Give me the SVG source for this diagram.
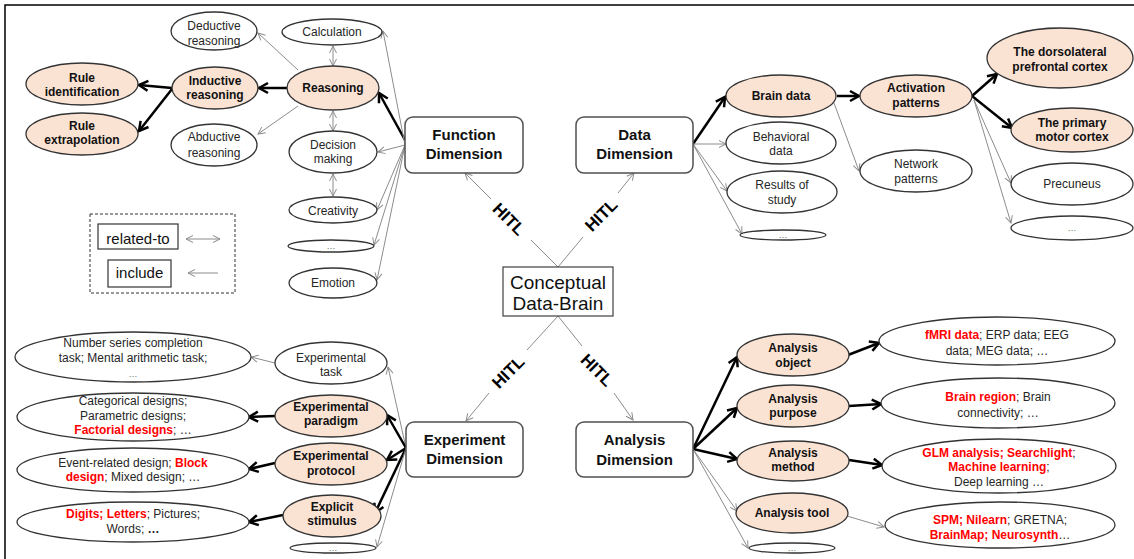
<svg xmlns="http://www.w3.org/2000/svg" width="1134" height="559" viewBox="0 0 1134 559">
  <defs>
    <style>
      .n{fill:#fff;stroke:#333;stroke-width:1.3}
      .h{fill:#FBE3D4;stroke:#333;stroke-width:1.3}
      .box{fill:#fff;stroke:#505050;stroke-width:1.5}
      text{font-family:"Liberation Sans",Arial,sans-serif;font-size:12px;fill:#262626;text-anchor:middle}
      .b{font-weight:bold;fill:#111}
      .r{font-weight:bold;fill:#FF0000}
      .dim{font-size:15px;font-weight:bold;fill:#111}
      .dots{font-size:9px;fill:#666}
      .hitl{font-size:17px;font-weight:bold;fill:#000}
      .g{stroke:#8c8c8c;stroke-width:1;fill:none;marker-end:url(#ag)}
      .p{stroke:#8c8c8c;stroke-width:1;fill:none}
      .d{stroke:#8c8c8c;stroke-width:1;fill:none;marker-start:url(#ag);marker-end:url(#ag)}
      .k{stroke:#000;stroke-width:2.5;fill:none;marker-end:url(#ak)}
    </style>
    <marker id="ag" markerUnits="userSpaceOnUse" viewBox="-10 -6 12 12" refX="0" refY="0" markerWidth="12" markerHeight="12" orient="auto-start-reverse">
      <path d="M-7,-3.5 L0,0 L-7,3.5" fill="none" stroke="#8c8c8c" stroke-width="1"/>
    </marker>
    <marker id="ak" markerUnits="userSpaceOnUse" viewBox="-12 -7 14 14" refX="0" refY="0" markerWidth="14" markerHeight="14" orient="auto">
      <path d="M-9,-5 L0,0 L-9,5" fill="none" stroke="#000" stroke-width="2.5"/>
    </marker>
  </defs>

  <!-- frame -->
  <path d="M5,559 V5 H1134" fill="none" stroke="#000" stroke-width="1.5"/>

  <!-- connectors -->
  <g id="connectors">
    <!-- function dimension -->
    <path class="k" d="M405,140 L379,93"/>
    <path class="g" d="M405,145 L383,31"/>
    <path class="g" d="M405,145 L378,152"/>
    <path class="g" d="M405,145 L377,210"/>
    <path class="g" d="M405,145 L374,245"/>
    <path class="g" d="M405,145 L377,280"/>
    <path class="k" d="M287,88 L259,88"/>
    <path class="k" d="M172,88 L139,85"/>
    <path class="k" d="M172,89 L139,131"/>
    <path class="g" d="M298,70 L258,33"/>
    <path class="g" d="M298,106 L258,134"/>
    <path class="d" d="M333,46 L333,66"/>
    <path class="d" d="M333,111 L333,131"/>
    <path class="d" d="M333,174 L333,196"/>
    <!-- HITL links -->
    <path class="p" d="M558,267 L531,240"/>
    <path class="g" d="M491,199 L465,173"/>
    <path class="p" d="M558,267 L583,237"/>
    <path class="g" d="M618,193 L634,173"/>
    <path class="p" d="M558,316 L527,350"/>
    <path class="g" d="M489,393 L466,421"/>
    <path class="p" d="M558,316 L582,346"/>
    <path class="g" d="M614,393 L633,420"/>
    <!-- data dimension -->
    <path class="k" d="M693,144 L725,97"/>
    <path class="g" d="M693,144 L726,144"/>
    <path class="g" d="M693,144 L727,191"/>
    <path class="g" d="M693,144 L742,234"/>
    <path class="k" d="M837,96 L859,96"/>
    <path class="g" d="M834,103 L859,171"/>
    <path class="k" d="M972,96 L997,74"/>
    <path class="k" d="M972,96 L1012,128"/>
    <path class="g" d="M974,100 L1011,183"/>
    <path class="g" d="M974,100 L1011,223"/>
    <!-- experiment dimension -->
    <path class="g" d="M406,448 L388,367"/>
    <path class="k" d="M406,448 L387,415"/>
    <path class="k" d="M406,448 L387,460"/>
    <path class="k" d="M406,448 L375,513"/>
    <path class="g" d="M406,448 L377,547"/>
    <path class="g" d="M275,363 L251,357"/>
    <path class="k" d="M275,416 L249,417"/>
    <path class="k" d="M275,463 L249,469"/>
    <path class="k" d="M283,515 L249,522"/>
    <!-- analysis dimension -->
    <path class="k" d="M693,449 L737,357"/>
    <path class="k" d="M693,449 L737,408"/>
    <path class="k" d="M693,449 L737,459"/>
    <path class="g" d="M693,449 L737,511"/>
    <path class="g" d="M693,449 L748,548"/>
    <path class="k" d="M848,355 L879,343"/>
    <path class="k" d="M849,406 L881,404"/>
    <path class="k" d="M849,460 L882,465"/>
    <path class="g" d="M847,516 L884,527"/>
  </g>

  <!-- HITL labels -->
  <g id="hitl-labels">
    <text class="hitl" transform="translate(509,219) rotate(45)" y="6">HITL</text>
    <text class="hitl" transform="translate(601,215) rotate(-45)" y="6">HITL</text>
    <text class="hitl" transform="translate(508,372) rotate(-45)" y="6">HITL</text>
    <text class="hitl" transform="translate(597,370) rotate(45)" y="6">HITL</text>
  </g>

  <!-- centre -->
  <g id="conceptual-data-brain">
    <rect x="503" y="267" width="110" height="49" fill="#fff" stroke="#404040" stroke-width="1.2"/>
    <text x="558" y="289" style="font-size:19px;fill:#111">Conceptual</text>
    <text x="558" y="310" style="font-size:19px;fill:#111">Data-Brain</text>
  </g>

  <!-- dimensions -->
  <g id="function-dimension">
    <rect class="box" x="405" y="117" width="118" height="56" rx="8"/>
    <text class="dim" x="464" y="140">Function</text>
    <text class="dim" x="464" y="159">Dimension</text>
  </g>
  <g id="data-dimension">
    <rect class="box" x="576" y="117" width="117" height="56" rx="8"/>
    <text class="dim" x="634.5" y="140">Data</text>
    <text class="dim" x="634.5" y="159">Dimension</text>
  </g>
  <g id="experiment-dimension">
    <rect class="box" x="406" y="422" width="117" height="55" rx="8"/>
    <text class="dim" x="464.5" y="445">Experiment</text>
    <text class="dim" x="464.5" y="464">Dimension</text>
  </g>
  <g id="analysis-dimension">
    <rect class="box" x="576" y="422" width="117" height="55" rx="8"/>
    <text class="dim" x="634.5" y="445">Analysis</text>
    <text class="dim" x="634.5" y="465">Dimension</text>
  </g>

  <!-- function nodes -->
  <g id="deductive-reasoning">
    <ellipse class="n" cx="214" cy="31" rx="43" ry="19"/>
    <text x="214" y="30">Deductive</text><text x="214" y="45">reasoning</text>
  </g>
  <g id="calculation">
    <ellipse class="n" cx="332" cy="32" rx="50" ry="13"/>
    <text x="332" y="36">Calculation</text>
  </g>
  <g id="reasoning">
    <ellipse class="h" cx="333" cy="88" rx="46" ry="22"/>
    <text class="b" x="333" y="92">Reasoning</text>
  </g>
  <g id="inductive-reasoning">
    <ellipse class="h" cx="215" cy="88" rx="43" ry="21"/>
    <text class="b" x="215" y="85">Inductive</text><text class="b" x="215" y="99">reasoning</text>
  </g>
  <g id="rule-identification">
    <ellipse class="h" cx="82" cy="84" rx="56" ry="21"/>
    <text class="b" x="82" y="82">Rule</text><text class="b" x="82" y="96">identification</text>
  </g>
  <g id="rule-extrapolation">
    <ellipse class="h" cx="82" cy="134" rx="56" ry="21"/>
    <text class="b" x="82" y="130">Rule</text><text class="b" x="82" y="144">extrapolation</text>
  </g>
  <g id="abductive-reasoning">
    <ellipse class="n" cx="214" cy="145" rx="43" ry="21"/>
    <text x="214" y="141">Abductive</text><text x="214" y="157">reasoning</text>
  </g>
  <g id="decision-making">
    <ellipse class="n" cx="333" cy="152" rx="44" ry="21"/>
    <text x="333" y="149">Decision</text><text x="333" y="163">making</text>
  </g>
  <g id="creativity">
    <ellipse class="n" cx="333" cy="210" rx="44" ry="13"/>
    <text x="333" y="215">Creativity</text>
  </g>
  <g id="function-more">
    <ellipse class="n" cx="331" cy="246" rx="43" ry="6"/>
    <text class="dots" x="331" y="249">…</text>
  </g>
  <g id="emotion">
    <ellipse class="n" cx="333" cy="283" rx="44" ry="15"/>
    <text x="333" y="287">Emotion</text>
  </g>

  <!-- legend -->
  <g id="legend">
    <rect x="90" y="214" width="145" height="79" fill="none" stroke="#333" stroke-width="1" stroke-dasharray="3,2"/>
    <rect x="98" y="224" width="80" height="25" fill="#fff" stroke="#333" stroke-width="1.2"/>
    <text x="138" y="244" style="font-size:15px;fill:#111">related-to</text>
    <rect x="108" y="260" width="63" height="27" fill="#fff" stroke="#333" stroke-width="1.2"/>
    <text x="139.5" y="278" style="font-size:15px;fill:#111">include</text>
    <path class="d" d="M186,239 L220,239"/>
    <path class="g" d="M218,273 L188,273"/>
  </g>

  <!-- data nodes -->
  <g id="brain-data">
    <ellipse class="h" cx="781" cy="96" rx="55" ry="21"/>
    <text class="b" x="781" y="100">Brain data</text>
  </g>
  <g id="behavioral-data">
    <ellipse class="n" cx="781" cy="143" rx="55" ry="21"/>
    <text x="781" y="141">Behavioral</text><text x="781" y="155">data</text>
  </g>
  <g id="results-of-study">
    <ellipse class="n" cx="782" cy="192" rx="55" ry="21"/>
    <text x="782" y="189">Results of</text><text x="782" y="204">study</text>
  </g>
  <g id="data-more">
    <ellipse class="n" cx="783" cy="235" rx="43" ry="5"/>
    <text class="dots" x="783" y="238">…</text>
  </g>
  <g id="activation-patterns">
    <ellipse class="h" cx="916" cy="96" rx="56" ry="21"/>
    <text class="b" x="916" y="92">Activation</text><text class="b" x="916" y="107">patterns</text>
  </g>
  <g id="dorsolateral-prefrontal-cortex">
    <ellipse class="h" cx="1060" cy="58" rx="73" ry="30"/>
    <text class="b" x="1060" y="56">The dorsolateral</text><text class="b" x="1060" y="71">prefrontal cortex</text>
  </g>
  <g id="primary-motor-cortex">
    <ellipse class="h" cx="1072" cy="130" rx="61" ry="22"/>
    <text class="b" x="1072" y="127">The primary</text><text class="b" x="1072" y="141">motor cortex</text>
  </g>
  <g id="network-patterns">
    <ellipse class="n" cx="916" cy="171" rx="56" ry="21"/>
    <text x="916" y="168">Network</text><text x="916" y="183">patterns</text>
  </g>
  <g id="precuneus">
    <ellipse class="n" cx="1072" cy="184" rx="61" ry="21"/>
    <text x="1072" y="188">Precuneus</text>
  </g>
  <g id="region-more">
    <ellipse class="n" cx="1072" cy="228" rx="61" ry="12"/>
    <text class="dots" x="1072" y="231">…</text>
  </g>

  <!-- experiment nodes -->
  <g id="task-examples">
    <ellipse class="n" cx="133" cy="357" rx="118" ry="25"/>
    <text x="133" y="347">Number series completion</text>
    <text x="133" y="362">task; Mental arithmetic task;</text>
    <text class="dots" x="133" y="377">…</text>
  </g>
  <g id="experimental-task">
    <ellipse class="n" cx="331" cy="363" rx="56" ry="21"/>
    <text x="331" y="362">Experimental</text><text x="331" y="376">task</text>
  </g>
  <g id="paradigm-examples">
    <ellipse class="n" cx="133" cy="417" rx="116" ry="24"/>
    <text x="133" y="405">Categorical designs;</text>
    <text x="133" y="420">Parametric designs;</text>
    <text x="133" y="434"><tspan class="r">Factorial designs</tspan>; …</text>
  </g>
  <g id="experimental-paradigm">
    <ellipse class="h" cx="331" cy="416" rx="56" ry="21"/>
    <text class="b" x="331" y="411">Experimental</text><text class="b" x="331" y="425">paradigm</text>
  </g>
  <g id="protocol-examples">
    <ellipse class="n" cx="133" cy="470" rx="116" ry="22"/>
    <text x="133" y="467">Event-related design; <tspan class="r">Block</tspan></text>
    <text x="133" y="481"><tspan class="r">design</tspan>; Mixed design; …</text>
  </g>
  <g id="experimental-protocol">
    <ellipse class="h" cx="331" cy="464" rx="56" ry="21"/>
    <text class="b" x="331" y="460">Experimental</text><text class="b" x="331" y="475">protocol</text>
  </g>
  <g id="stimulus-examples">
    <ellipse class="n" cx="133" cy="522" rx="116" ry="20"/>
    <text x="133" y="518"><tspan class="r">Digits; Letters</tspan>; Pictures;</text>
    <text x="133" y="533">Words; <tspan font-weight="bold">…</tspan></text>
  </g>
  <g id="explicit-stimulus">
    <ellipse class="h" cx="332" cy="516" rx="49" ry="21"/>
    <text class="b" x="332" y="511">Explicit</text><text class="b" x="332" y="525">stimulus</text>
  </g>
  <g id="experiment-more">
    <ellipse class="n" cx="333" cy="548" rx="43" ry="5"/>
    <text class="dots" x="333" y="551">…</text>
  </g>

  <!-- analysis nodes -->
  <g id="analysis-object">
    <ellipse class="h" cx="793" cy="355" rx="56" ry="21"/>
    <text class="b" x="793" y="352">Analysis</text><text class="b" x="793" y="367">object</text>
  </g>
  <g id="analysis-purpose">
    <ellipse class="h" cx="793" cy="406" rx="56" ry="21"/>
    <text class="b" x="793" y="403">Analysis</text><text class="b" x="793" y="417">purpose</text>
  </g>
  <g id="analysis-method">
    <ellipse class="h" cx="793" cy="461" rx="56" ry="20"/>
    <text class="b" x="793" y="457">Analysis</text><text class="b" x="793" y="471">method</text>
  </g>
  <g id="analysis-tool">
    <ellipse class="h" cx="792" cy="513" rx="56" ry="20"/>
    <text class="b" x="792" y="517">Analysis tool</text>
  </g>
  <g id="analysis-more">
    <ellipse class="n" cx="792" cy="548" rx="43" ry="5"/>
    <text class="dots" x="792" y="551">…</text>
  </g>
  <g id="object-examples">
    <ellipse class="n" cx="997" cy="341" rx="118" ry="24"/>
    <text x="997" y="339"><tspan class="r">fMRI data</tspan>; ERP data; EEG</text>
    <text x="997" y="355">data; MEG data; …</text>
  </g>
  <g id="purpose-examples">
    <ellipse class="n" cx="998" cy="403" rx="117" ry="25"/>
    <text x="998" y="401"><tspan class="r">Brain region</tspan>; Brain</text>
    <text x="998" y="417">connectivity; …</text>
  </g>
  <g id="method-examples">
    <ellipse class="n" cx="999" cy="466" rx="117" ry="27"/>
    <text x="999" y="457"><tspan class="r">GLM analysis; Searchlight</tspan>;</text>
    <text x="999" y="471"><tspan class="r">Machine learning</tspan>;</text>
    <text x="999" y="486">Deep learning …</text>
  </g>
  <g id="tool-examples">
    <ellipse class="n" cx="1000" cy="525" rx="115" ry="23"/>
    <text x="1000" y="524"><tspan class="r">SPM; Nilearn</tspan>; GRETNA;</text>
    <text x="1000" y="539"><tspan class="r">BrainMap; Neurosynth</tspan>…</text>
  </g>
</svg>
